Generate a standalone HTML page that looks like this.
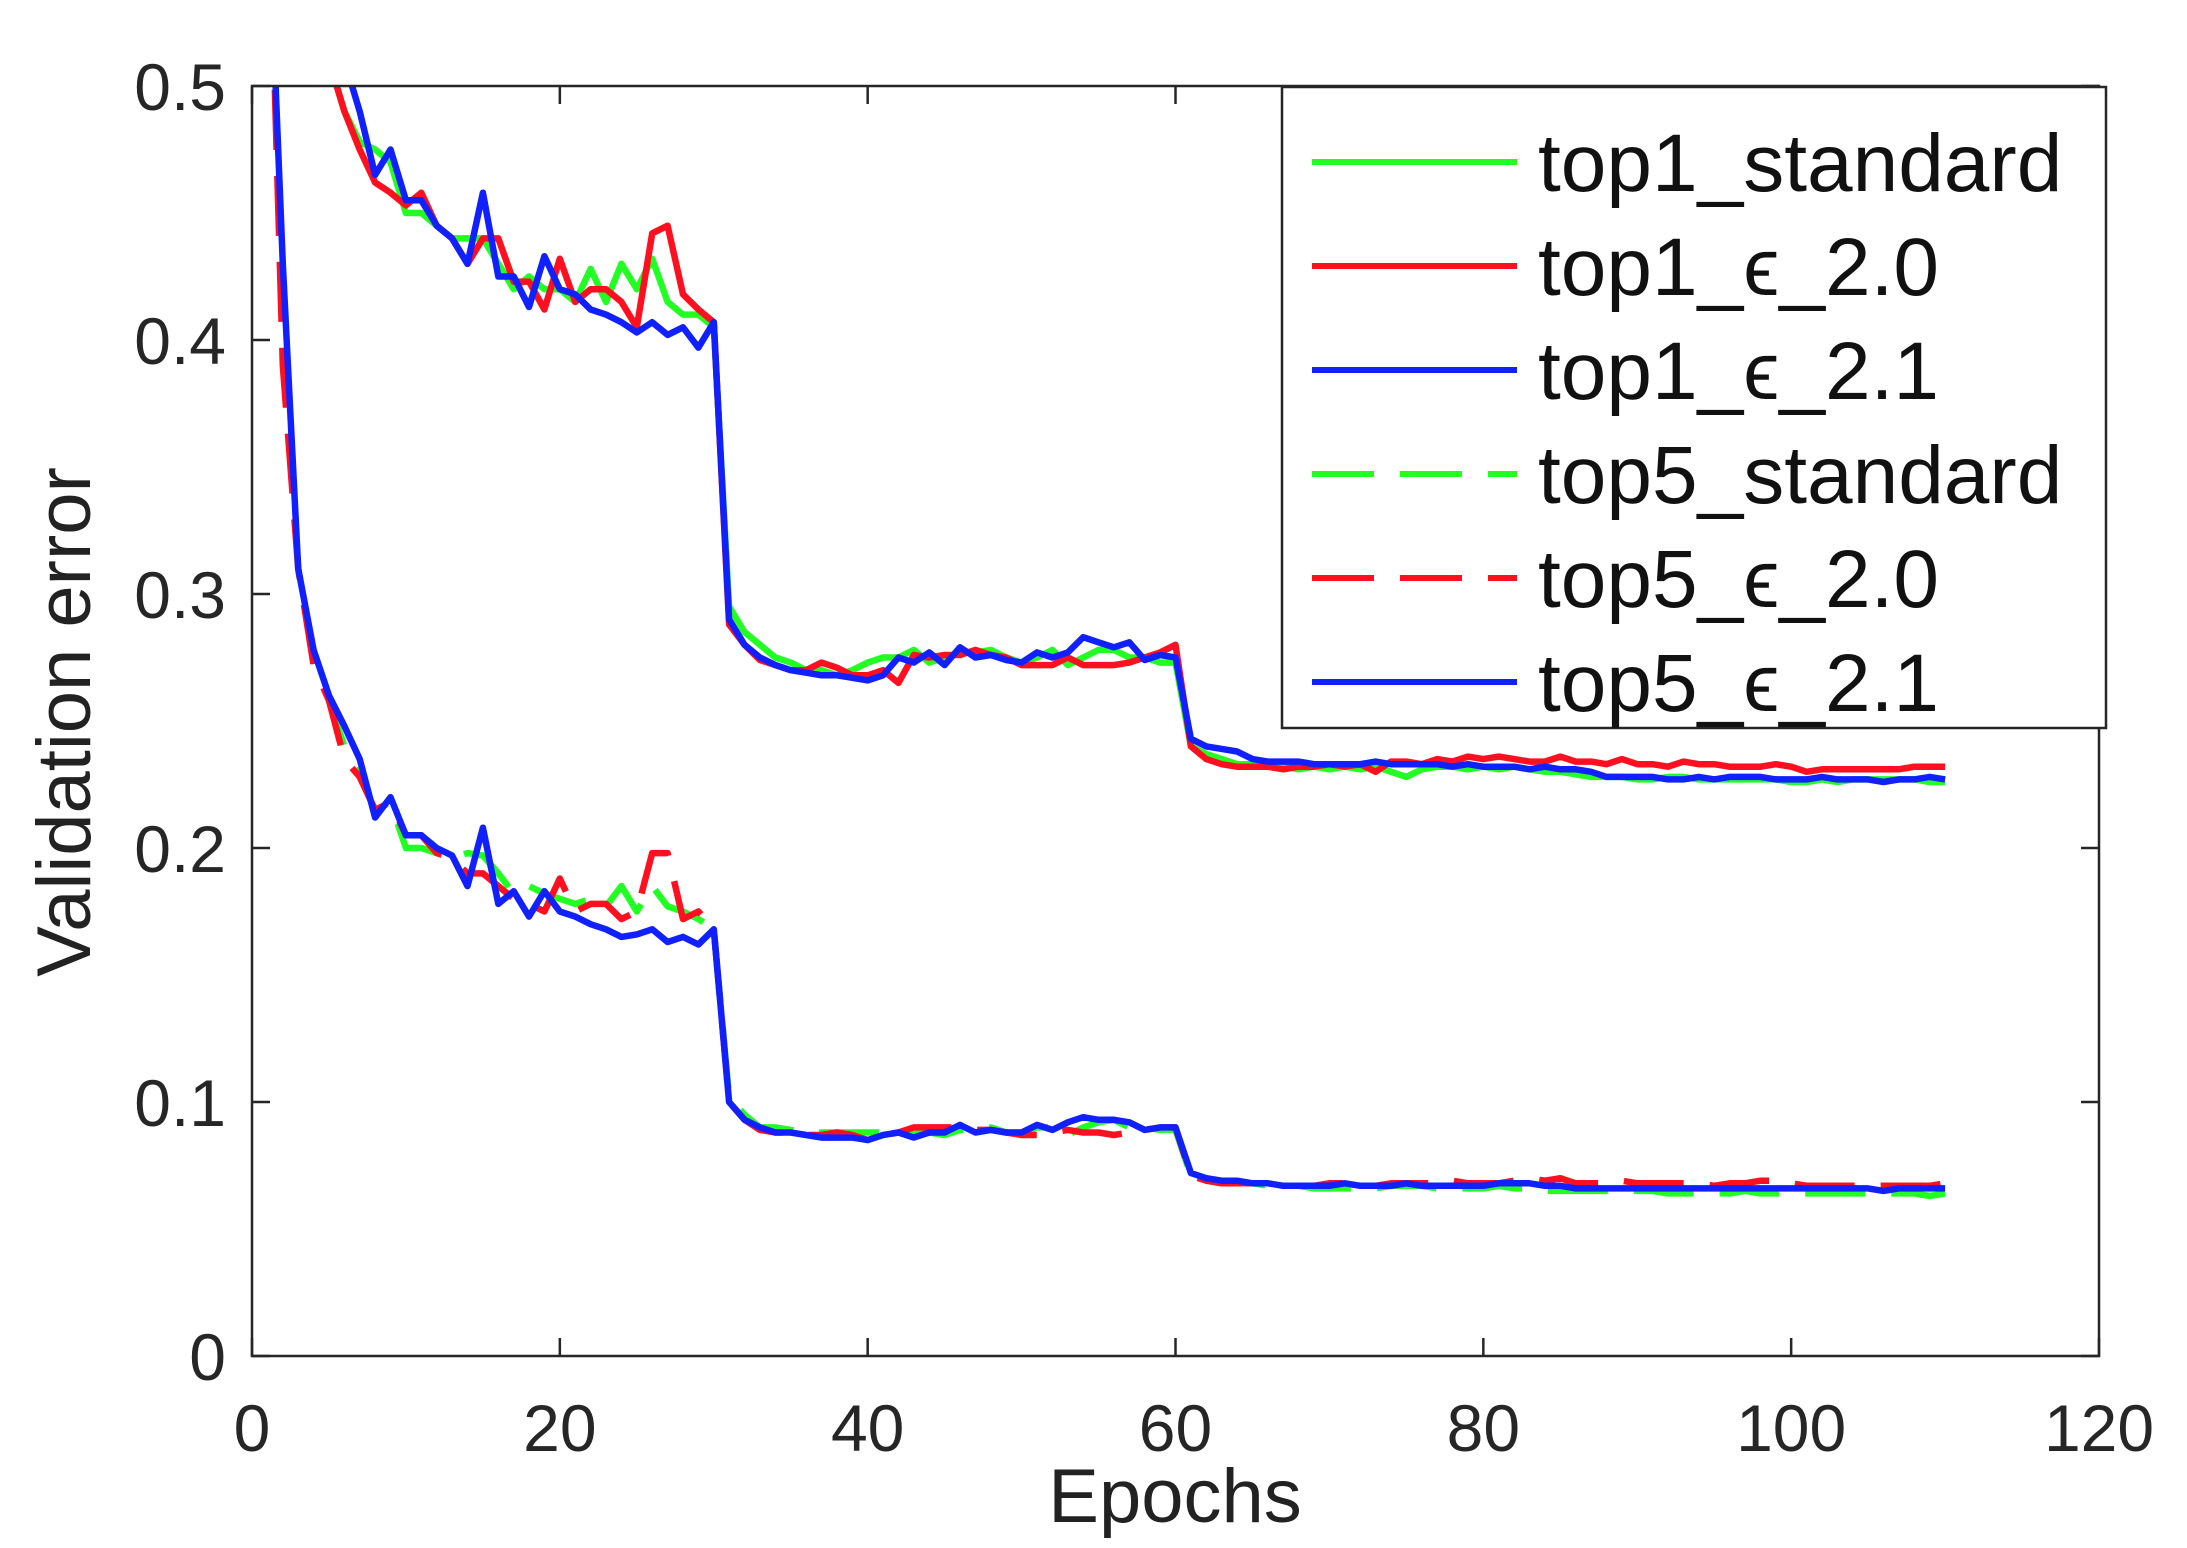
<!DOCTYPE html>
<html><head><meta charset="utf-8"><style>
html,body{margin:0;padding:0;background:#fff;}
svg{display:block;font-family:"Liberation Sans",sans-serif;}
</style></head><body>
<svg id="chart" width="2187" height="1548" viewBox="0 0 2187 1548" xmlns="http://www.w3.org/2000/svg">
<defs><clipPath id="pc"><rect x="252" y="86" width="1847" height="1270"/></clipPath></defs>
<rect x="252" y="86" width="1847" height="1270" fill="#fff"/>
<g id="series" clip-path="url(#pc)"></g>
<g id="axes"></g>
<text x="1175" y="1522" font-size="76" text-anchor="middle" fill="#222">Epochs</text>
<text transform="translate(90,722) rotate(-90)" font-size="76" text-anchor="middle" fill="#222">Validation error</text>
<g id="legend"></g>
</svg>
<script>
const xTicks=[0,20,40,60,80,100,120];
const yTicks=[0,0.1,0.2,0.3,0.4,0.5];
const yTickLabels=["0","0.1","0.2","0.3","0.4","0.5"];
const seriesNames=["top1_standard","top1_\u03f5_2.0","top1_\u03f5_2.1","top5_standard","top5_\u03f5_2.0","top5_\u03f5_2.1"];
const top1Standard=[1.0,0.8,0.66,0.58,0.51,0.49,0.478,0.475,0.47,0.45,0.45,0.445,0.44,0.44,0.44,0.43,0.42,0.425,0.42,0.42,0.415,0.428,0.415,0.43,0.42,0.432,0.415,0.41,0.41,0.405,
0.295,0.285,0.28,0.275,0.273,0.27,0.27,0.268,0.27,0.273,0.275,0.275,0.278,0.273,0.275,0.277,0.277,0.278,0.275,0.273,0.275,0.278,0.272,0.275,0.278,0.278,0.275,0.275,0.273,0.273,
0.24,0.237,0.235,0.233,0.233,0.232,0.232,0.231,0.232,0.231,0.232,0.231,0.232,0.23,0.228,0.231,0.232,0.232,0.231,0.232,0.231,0.232,0.231,0.23,0.23,0.229,0.228,0.228,0.228,0.227,0.227,0.228,0.228,0.227,0.227,0.227,0.227,0.227,0.227,0.226,0.226,0.227,0.226,0.227,0.227,0.227,0.227,0.227,0.226,0.226];
const top1Eps20=[1.0,0.8,0.66,0.58,0.51,0.49,0.475,0.462,0.458,0.453,0.458,0.445,0.44,0.43,0.44,0.44,0.423,0.423,0.412,0.432,0.415,0.42,0.42,0.415,0.405,0.442,0.445,0.418,0.412,0.407,
0.288,0.28,0.274,0.272,0.27,0.27,0.273,0.271,0.268,0.268,0.27,0.265,0.276,0.275,0.276,0.276,0.278,0.276,0.275,0.272,0.272,0.272,0.275,0.272,0.272,0.272,0.273,0.275,0.277,0.28,
0.24,0.235,0.233,0.232,0.232,0.232,0.231,0.232,0.232,0.233,0.232,0.233,0.23,0.234,0.234,0.233,0.235,0.234,0.236,0.235,0.236,0.235,0.234,0.234,0.236,0.234,0.234,0.233,0.235,0.233,0.233,0.232,0.234,0.233,0.233,0.232,0.232,0.232,0.233,0.232,0.23,0.231,0.231,0.231,0.231,0.231,0.231,0.232,0.232,0.232];
const top1Eps21=[1.0,0.82,0.68,0.6,0.55,0.51,0.49,0.465,0.475,0.455,0.455,0.445,0.44,0.43,0.458,0.425,0.425,0.413,0.433,0.42,0.418,0.412,0.41,0.407,0.403,0.407,0.402,0.405,0.397,0.407,
0.29,0.28,0.275,0.272,0.27,0.269,0.268,0.268,0.267,0.266,0.268,0.275,0.273,0.277,0.272,0.279,0.275,0.276,0.274,0.273,0.277,0.275,0.277,0.283,0.281,0.279,0.281,0.274,0.276,0.275,
0.243,0.24,0.239,0.238,0.235,0.234,0.234,0.234,0.233,0.233,0.233,0.233,0.234,0.233,0.233,0.233,0.233,0.232,0.233,0.232,0.232,0.232,0.231,0.232,0.231,0.231,0.23,0.228,0.228,0.228,0.228,0.227,0.227,0.228,0.227,0.228,0.228,0.228,0.227,0.227,0.227,0.228,0.227,0.227,0.227,0.226,0.227,0.227,0.228,0.227];
const top5Standard=[0.6,0.4,0.31,0.275,0.258,0.24,0.228,0.215,0.218,0.2,0.2,0.198,0.196,0.198,0.197,0.19,0.182,0.185,0.182,0.18,0.178,0.18,0.177,0.185,0.175,0.185,0.177,0.175,0.172,0.168,
0.102,0.095,0.09,0.09,0.089,0.088,0.088,0.088,0.088,0.088,0.088,0.087,0.088,0.088,0.087,0.089,0.089,0.09,0.088,0.088,0.09,0.09,0.087,0.09,0.092,0.093,0.09,0.09,0.089,0.089,
0.071,0.069,0.068,0.068,0.068,0.067,0.067,0.067,0.066,0.066,0.066,0.066,0.066,0.067,0.067,0.067,0.066,0.066,0.066,0.066,0.067,0.066,0.066,0.065,0.065,0.065,0.065,0.065,0.065,0.065,0.065,0.064,0.064,0.064,0.064,0.064,0.065,0.064,0.064,0.064,0.064,0.064,0.064,0.064,0.064,0.064,0.064,0.064,0.063,0.064];
const top5Eps20=[0.6,0.39,0.31,0.272,0.258,0.235,0.228,0.215,0.218,0.205,0.205,0.198,0.196,0.19,0.19,0.185,0.18,0.178,0.175,0.188,0.175,0.178,0.178,0.172,0.175,0.198,0.198,0.172,0.175,0.168,
0.1,0.093,0.089,0.088,0.088,0.087,0.087,0.088,0.087,0.085,0.087,0.088,0.09,0.09,0.09,0.09,0.089,0.089,0.088,0.087,0.087,0.088,0.089,0.088,0.088,0.087,0.088,0.089,0.09,0.09,
0.071,0.069,0.068,0.068,0.068,0.068,0.067,0.067,0.067,0.068,0.068,0.067,0.067,0.068,0.068,0.068,0.068,0.069,0.068,0.068,0.068,0.069,0.07,0.069,0.07,0.068,0.068,0.068,0.069,0.068,0.068,0.068,0.068,0.068,0.067,0.068,0.068,0.069,0.069,0.068,0.067,0.067,0.067,0.067,0.067,0.067,0.067,0.067,0.067,0.068];
const top5Eps21=[0.58,0.43,0.31,0.278,0.26,0.248,0.235,0.212,0.22,0.205,0.205,0.2,0.197,0.185,0.208,0.178,0.183,0.173,0.183,0.175,0.173,0.17,0.168,0.165,0.166,0.168,0.163,0.165,0.162,0.168,
0.1,0.093,0.09,0.088,0.088,0.087,0.086,0.086,0.086,0.085,0.087,0.088,0.086,0.088,0.088,0.091,0.088,0.089,0.088,0.088,0.091,0.089,0.092,0.094,0.093,0.093,0.092,0.089,0.09,0.09,
0.072,0.07,0.069,0.069,0.068,0.068,0.067,0.067,0.067,0.067,0.068,0.067,0.067,0.067,0.068,0.067,0.067,0.067,0.067,0.067,0.068,0.068,0.068,0.067,0.067,0.066,0.066,0.066,0.066,0.066,0.066,0.066,0.066,0.066,0.066,0.066,0.066,0.066,0.066,0.066,0.066,0.066,0.066,0.066,0.066,0.065,0.066,0.066,0.066,0.066];
const allSeries=[top1Standard,top1Eps20,top1Eps21,top5Standard,top5Eps20,top5Eps21];
const colors=["#22ff22","#ff1020","#1020ff","#22ff22","#ff1020","#1020ff"];
const dashed=[false,false,false,true,true,false];
const seriesNamesKebab=["top1-standard-line","top1-eps-2-0-line","top1-eps-2-1-line","top5-standard-line","top5-eps-2-0-line","top5-eps-2-1-line"];

const L=252,R=2099,T=86,B=1356;
const xS=v=>L+(v/120)*(R-L);
const yS=v=>B-(v/0.5)*(B-T);
const NS="http://www.w3.org/2000/svg";
function mk(tag,attrs,parent){const e=document.createElementNS(NS,tag);for(const k in attrs)e.setAttribute(k,attrs[k]);parent.appendChild(e);return e;}

const sg=document.getElementById('series');
allSeries.forEach((s,i)=>{
  const d=s.map((v,j)=>(j?'L':'M')+xS(j+1).toFixed(1)+','+yS(v).toFixed(1)).join(' ');
  const p=mk('path',{d:d,fill:'none',stroke:colors[i],'stroke-width':6.5,'stroke-linejoin':'round'},sg);
  if(dashed[i])p.setAttribute('stroke-dasharray','60 26');
  
  
});
const ax=document.getElementById('axes');
const box=mk('rect',{x:L,y:T,width:R-L,height:B-T,fill:'none',stroke:'#262626','stroke-width':2.5},ax);


xTicks.forEach(t=>{
  const x=xS(t);
  mk('line',{x1:x,y1:B,x2:x,y2:B-18,stroke:'#262626','stroke-width':2.5},ax);
  mk('line',{x1:x,y1:T,x2:x,y2:T+18,stroke:'#262626','stroke-width':2.5},ax);
  const tx=mk('text',{x:x,y:B+95,'font-size':66,'text-anchor':'middle',fill:'#262626'},ax);
  tx.textContent=String(t);
  
  
});
yTicks.forEach((t,i)=>{
  const y=yS(t);
  mk('line',{x1:L,y1:y,x2:L+18,y2:y,stroke:'#262626','stroke-width':2.5},ax);
  mk('line',{x1:R,y1:y,x2:R-18,y2:y,stroke:'#262626','stroke-width':2.5},ax);
  const tx=mk('text',{x:226,y:y+24,'font-size':66,'text-anchor':'end',fill:'#262626'},ax);
  tx.textContent=yTickLabels[i];
  
  
});
const lg=document.getElementById('legend');
const lb=mk('rect',{x:1282,y:87,width:824,height:641,fill:'#fff',stroke:'#262626','stroke-width':2.5},lg);


seriesNames.forEach((n,i)=>{
  const y=162+i*104;
  const ln=mk('line',{x1:1312,y1:y,x2:1517,y2:y,stroke:colors[i],'stroke-width':6},lg);
  if(dashed[i])ln.setAttribute('stroke-dasharray','62 26');
  
  
  const tx=mk('text',{x:1538,y:y+29,'font-size':82,fill:'#111'},lg);
  tx.textContent=n;
  
  
});
</script>
</body></html>
